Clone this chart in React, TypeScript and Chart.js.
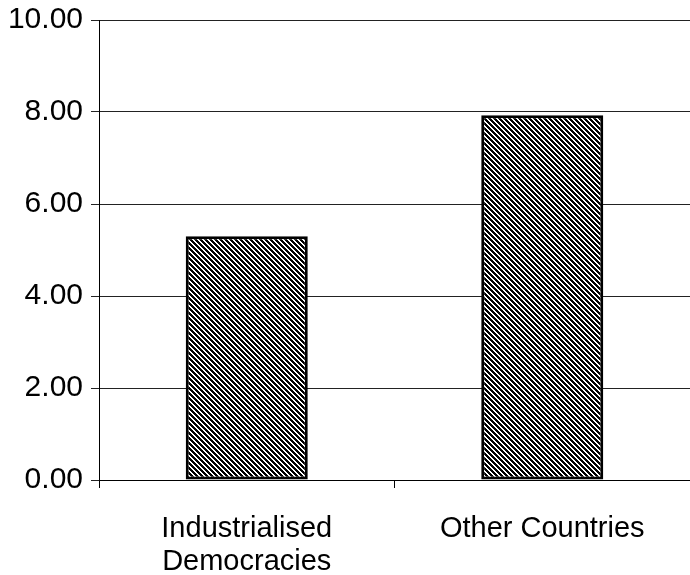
import React, { useEffect, useRef } from "react";
import { Chart, registerables } from "chart.js";

Chart.register(...registerables);

const categories: string[][] = [["Industrialised", "Democracies"], ["Other Countries"]];
const values: number[] = [5.3, 7.93];
const yTicks: number[] = [0, 2, 4, 6, 8, 10];

function makeHatch(): CanvasPattern | string {
  const n = 5;
  const c = document.createElement("canvas");
  c.width = n;
  c.height = n;
  const ctx = c.getContext("2d");
  if (!ctx) return "#000";
  const img = ctx.createImageData(n, n);
  for (let y = 0; y < n; y++) {
    for (let x = 0; x < n; x++) {
      const d = (((x - y) % n) + n) % n;
      const black = d < 3;
      const i = (y * n + x) * 4;
      const v = black ? 0 : 255;
      img.data[i] = v;
      img.data[i + 1] = v;
      img.data[i + 2] = v;
      img.data[i + 3] = 255;
    }
  }
  ctx.putImageData(img, 0, 0);
  const p = ctx.createPattern(c, "repeat");
  return p || "#000";
}

export default function App() {
  const ref = useRef<HTMLCanvasElement | null>(null);
  useEffect(() => {
    if (!ref.current) return;
    const yFont = { family: "'Liberation Sans', Arial, sans-serif", size: 30 };
    const xFont = { family: "'Liberation Sans', Arial, sans-serif", size: 29, lineHeight: 1.15 };
    const chart = new Chart(ref.current, {
      type: "bar",
      data: {
        labels: categories,
        datasets: [
          {
            data: values,
            backgroundColor: makeHatch() as any,
            borderColor: "#000",
            borderWidth: 3,
            borderSkipped: false,
            barPercentage: 0.413,
            categoryPercentage: 1,
          },
        ],
      },
      options: {
        animation: false,
        responsive: false,
        layout: { padding: { top: 0, right: 0, left: 0, bottom: 0 } },
        plugins: { legend: { display: false }, tooltip: { enabled: false } },
        scales: {
          x: {
            grid: {
              offset: true,
              drawOnChartArea: false,
              drawTicks: true,
              tickLength: 8,
              color: "#000",
            },
            border: { color: "#000", width: 1 },
            ticks: { color: "#000", font: xFont, padding: 24, maxRotation: 0 },
            afterFit: (s: any) => {
              s.height = 95;
              s.paddingLeft = 0;
              s.paddingRight = 0;
            },
          },
          y: {
            min: 0,
            max: 10,
            afterBuildTicks: (s: any) => {
              s.ticks = yTicks.map((v) => ({ value: v }));
            },
            grid: { color: "#222", lineWidth: 1, tickLength: 8 },
            border: { color: "#000", width: 1 },
            ticks: {
              color: "#000",
              font: yFont,
              padding: 8,
              callback: (v: any) => Number(v).toFixed(2),
            },
            afterFit: (s: any) => {
              s.width = 99;
              s.paddingTop = 20;
              s.paddingBottom = 0;
            },
          },
        },
      },
    });
    return () => chart.destroy();
  }, []);
  return (
    <div style={{ position: "fixed", left: 0, top: 0, width: 690, height: 575, background: "#fff" }}>
      <canvas ref={ref} width={690} height={575} style={{ display: "block" }} />
    </div>
  );
}
